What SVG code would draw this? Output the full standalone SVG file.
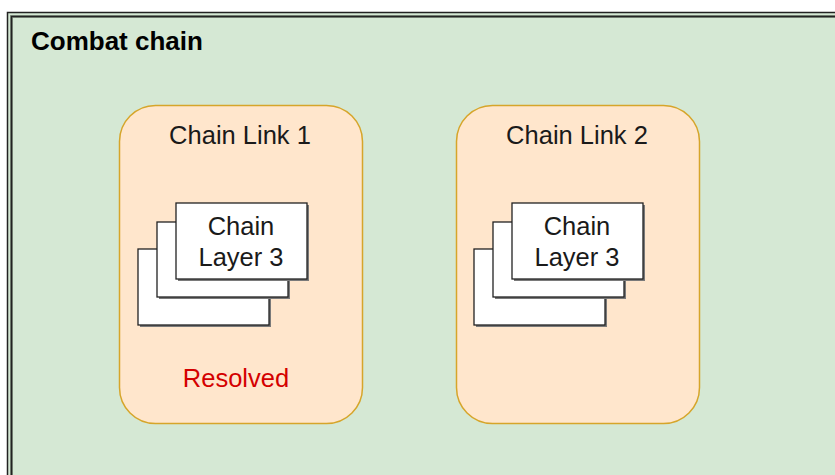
<svg xmlns="http://www.w3.org/2000/svg" width="835" height="475" viewBox="0 0 835 475">
  <defs>
    <style>
      .frame { fill: none; stroke: #222; stroke-width: 1.5; }
      .link { fill: #ffe6cc; stroke: #d6a52a; stroke-width: 1.5; }
      .card { fill: #ffffff; stroke: #222; stroke-width: 1.3; }
      .shadow { fill: #7a7a7a; }
      .lbl { font-family: "Liberation Sans", Arial, sans-serif; font-size: 25.5px; fill: #1a1a1a; text-anchor: middle; }
      .title { font-family: "Liberation Sans", Arial, sans-serif; font-size: 26px; font-weight: bold; fill: #000; }
      .red { fill: #d40000; }
    </style>
    <!-- a stack of three cards with drop shadows -->
    <g id="stack">
      <rect class="shadow" x="2" y="2" width="131" height="76"/>
      <rect class="card" x="0" y="0" width="131" height="76"/>
      <rect class="shadow" x="21" y="-25" width="131" height="75"/>
      <rect class="card" x="19" y="-27" width="131" height="75"/>
      <rect class="shadow" x="40" y="-44" width="131" height="76"/>
      <rect class="card" x="38" y="-46" width="131" height="76"/>
    </g>
  </defs>

  <!-- container -->
  <g id="combat-chain">
    <rect x="7" y="12" width="840" height="475" fill="#d5e8d4"/>
    <rect x="11.5" y="16.5" width="840" height="475" fill="none" stroke="#8a9a88" stroke-width="3"/>
    <rect class="frame" x="7.5" y="12.5" width="840" height="475"/>
    <rect class="frame" x="11.5" y="16.5" width="840" height="475"/>
    <text class="title" x="31" y="50">Combat chain</text>
  </g>

  <g id="chain-link-1">
    <rect class="link" x="119.5" y="105.5" width="243" height="318" rx="36" ry="36"/>
    <text class="lbl" x="240" y="144">Chain Link 1</text>
    <use href="#stack" x="138" y="249"/>
    <text class="lbl" x="241" y="235">Chain</text>
    <text class="lbl" x="241" y="266">Layer 3</text>
    <text class="lbl red" x="236" y="387">Resolved</text>
  </g>

  <g id="chain-link-2">
    <rect class="link" x="456.5" y="105.5" width="243" height="318" rx="36" ry="36"/>
    <text class="lbl" x="577" y="144">Chain Link 2</text>
    <use href="#stack" x="474" y="249"/>
    <text class="lbl" x="577" y="235">Chain</text>
    <text class="lbl" x="577" y="266">Layer 3</text>
  </g>

  <g id="connectors"/>
</svg>
